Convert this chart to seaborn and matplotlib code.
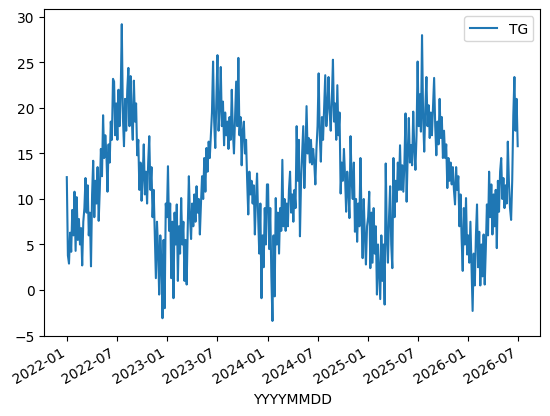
import pandas as pd
import numpy as np
import matplotlib
matplotlib.use("Agg")
import matplotlib.pyplot as plt
import matplotlib.dates as mdates
import seaborn as sns

# daily mean temperature, every 4 days from 2022-01-01
start_date = "2022-01-01"
step = "4D"

tg_2022 = [12.4, 3.8, 2.9, 6.3, 4.2, 8.8, 6.0, 10.8,
           4.3, 10.2, 5.5, 7.8, 5.0, 6.8, 2.7,
           7.5, 9.0, 12.3, 8.5, 11.5, 6.0, 8.5, 2.6,
           10.5, 14.2, 8.0, 12.0, 9.5, 13.5, 7.6,
           11.0, 15.5, 12.5, 19.2, 14.5, 17.0, 15.0, 10.8,
           16.0, 14.0, 18.5, 16.5, 23.2, 22.9, 17.0, 20.5,
           16.5, 22.0, 18.0, 21.5, 29.2, 19.0, 15.8,
           21.0, 17.5, 22.0, 24.4, 18.0, 23.5, 19.0, 16.5,
           23.0, 18.5, 20.5, 14.8, 16.5, 11.0, 14.0, 9.8,
           12.5, 16.0, 10.5, 13.0, 9.5, 14.0, 16.9,
           11.0, 13.5, 8.0, 11.0, 6.2, 1.3, 7.5, 4.5,
           -0.5, 6.0, 3.0, -3.1, 5.5, -2.0, 9.5, 8.0]

tg_2023 = [13.6, 6.5, 9.5, 1.3, 7.5, -0.9, 8.5, 5.0,
           9.4, 1.0, 7.0, 4.0, 10.1, 5.0, 7.5,
           1.0, 5.5, 0.6, 7.0, 12.5, 8.0, 5.6, 9.5,
           7.0, 10.5, 7.5, 11.4, 8.5, 10.0, 6.1,
           9.5, 12.5, 10.0, 14.5, 10.8, 15.6, 13.0, 16.3,
           14.5, 17.0, 19.5, 25.1, 18.5, 15.6, 21.0, 25.8,
           17.5, 20.0, 24.5, 18.0, 20.7, 15.9, 19.5,
           17.0, 18.5, 15.5, 19.0, 16.5, 22.0, 17.5, 15.0,
           19.0, 22.9, 18.0, 25.5, 17.0, 19.0, 13.7,
           17.5, 18.5, 15.0, 16.5, 12.0, 8.3, 13.0, 10.5,
           12.0, 9.5, 11.5, 6.1, 10.0, 12.8, 8.0, 4.0,
           9.5, -0.9, 6.0, 2.5, 9.0, 5.0, 11.6]

tg_2024 = [11.6, 4.5, 9.0, 1.5, -3.4, 6.0, -0.7, 10.1,
           5.0, 8.5, 4.0, 9.0, 6.5, 14.3, 7.0,
           10.0, 6.5, 9.5, 7.0, 11.0, 13.0, 8.5, 10.5,
           7.5, 11.0, 9.0, 18.0, 12.0, 16.5, 5.9,
           12.0, 15.0, 18.0, 11.2, 15.0, 20.2, 15.0, 16.7,
           14.0, 16.5, 13.8, 15.5, 14.0, 11.6, 15.5, 18.0,
           23.8, 17.0, 14.1, 19.0, 16.5, 20.0, 23.6,
           18.0, 20.0, 23.4, 19.5, 17.5, 21.0, 25.3, 18.5,
           20.5, 16.5, 22.5, 17.0, 19.5, 10.6, 14.0, 12.0,
           15.5, 12.5, 8.6, 13.0, 11.0, 7.9, 16.9,
           12.0, 10.0, 14.0, 6.4, 10.0, 5.3, 9.5, 7.0,
           14.5, 8.0, 3.5, 10.0, 6.0, 2.8, 7.0]

tg_2025 = [8.0, 10.8, 2.4, 8.5, 3.0, 9.0, 4.0, 7.0,
           -0.5, 5.0, 2.0, -1.0, 6.0, 1.0, 5.0,
           -1.6, 13.9, 6.0, 3.0, 8.0, 11.4, 5.0, 2.4,
           14.5, 8.0, 12.0, 9.7, 14.0, 11.0, 15.9,
           11.0, 13.7, 10.8, 14.0, 19.4, 9.7, 15.0, 18.9,
           14.0, 15.9, 13.7, 19.6, 15.5, 13.2, 17.0, 25.1,
           18.0, 21.5, 17.4, 28.0, 19.0, 15.2, 20.0,
           23.4, 18.0, 20.3, 16.7, 19.5, 17.0, 20.0, 23.3,
           18.0, 14.8, 18.5, 16.0, 21.0, 16.7, 19.0, 14.5,
           17.5, 14.5, 16.0, 11.2, 14.5, 12.0, 14.0,
           11.6, 13.5, 11.0, 9.4, 13.5, 11.0, 12.5, 7.0,
           10.5, 5.7, 2.1, 9.0, 5.0, 10.1, 3.9]

tg_2026 = [6.0, 3.0, 7.5, 2.5, -2.3, 4.0, 0.5, 6.0,
           9.4, 2.5, 6.4, 0.5, 5.0, 1.5, 6.1,
           0.6, 4.5, 9.4, 6.0, 13.0, 8.0, 11.6, 6.1,
           10.5, 7.0, 11.0, 4.6, 12.0, 8.6, 13.0,
           14.5, 10.0, 12.3, 9.0, 11.5, 9.5, 16.3, 11.9,
           9.0, 7.7, 12.0, 19.2, 23.4, 17.5, 21.0, 15.8]

tg = tg_2022 + tg_2023 + tg_2024 + tg_2025 + tg_2026
dates = pd.date_range(start_date, periods=len(tg), freq=step)

df = pd.DataFrame({"YYYYMMDD": dates, "TG": tg})

fig, ax = plt.subplots(figsize=(6.4, 4.8))
sns.lineplot(data=df, x="YYYYMMDD", y="TG", ax=ax, label="TG",
             estimator=None, color="tab:blue", linewidth=1.5)

ax.xaxis.set_major_locator(mdates.MonthLocator(bymonth=[1, 7]))
ax.xaxis.set_major_formatter(mdates.DateFormatter("%Y-%m"))
ax.set_ylabel("")
ax.set_xlabel("YYYYMMDD")
ax.legend(loc="upper right")
fig.autofmt_xdate()

plt.savefig("out.png", dpi=100, bbox_inches="tight")
